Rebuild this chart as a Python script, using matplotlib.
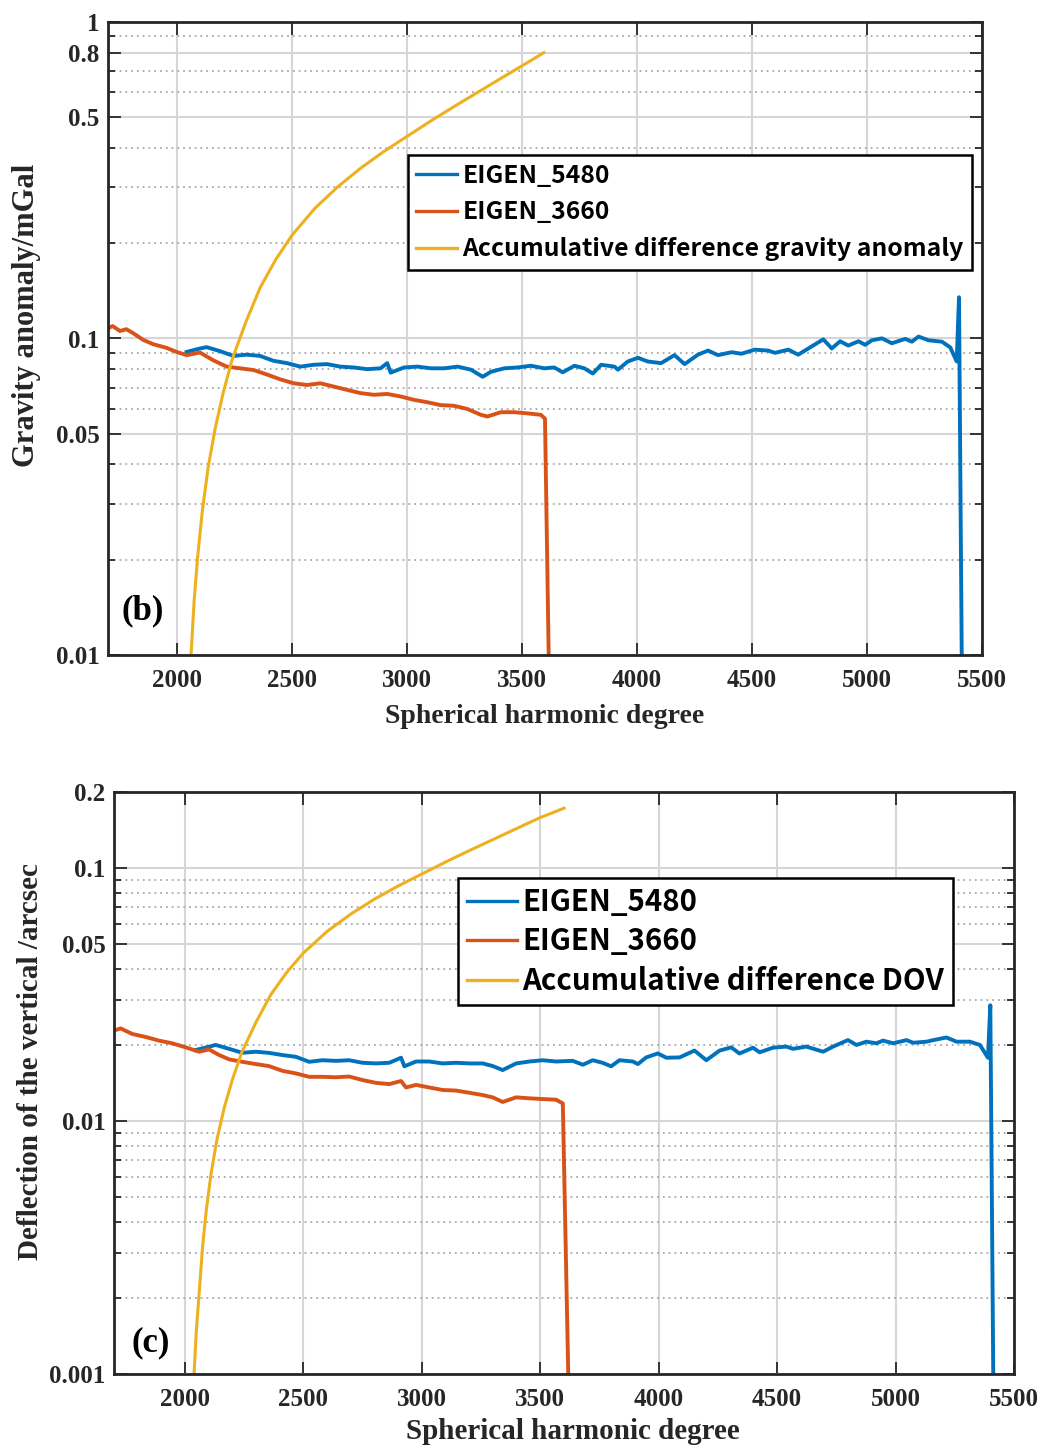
import matplotlib
matplotlib.use("Agg")
import matplotlib.pyplot as plt
from matplotlib.ticker import FixedLocator, FixedFormatter, NullLocator

# ---------------- data: panel (b) gravity anomaly (mGal) ----------------
b_e5480_deg = [2042, 2100, 2129, 2187, 2245, 2303, 2361, 2420, 2478, 2536, 2594, 2652,
               2710, 2769, 2827, 2885, 2914, 2929, 2987, 3045, 3104, 3162, 3220, 3278,
               3329, 3365, 3423, 3481, 3539, 3597, 3640, 3677, 3728, 3771, 3808, 3844,
               3902, 3917, 3960, 4004, 4047, 4105, 4163, 4207, 4265, 4309, 4352, 4411,
               4454, 4512, 4570, 4600, 4658, 4701, 4745, 4810, 4847, 4883, 4919, 4963,
               4992, 5021, 5065, 5108, 5166, 5195, 5224, 5268, 5326, 5362, 5390, 5400, 5415]
b_e5480_val = [0.0907, 0.0930, 0.0939, 0.0912, 0.0881, 0.0889, 0.0881, 0.0850, 0.0836, 0.0815,
               0.0826, 0.0830, 0.0815, 0.0810, 0.0800, 0.0805, 0.0836, 0.0780, 0.0810, 0.0815,
               0.0805, 0.0805, 0.0815, 0.0797, 0.0757, 0.0785, 0.0805, 0.0810, 0.0820, 0.0805,
               0.0810, 0.0782, 0.0820, 0.0805, 0.0775, 0.0826, 0.0815, 0.0797, 0.0846, 0.0869,
               0.0846, 0.0836, 0.0886, 0.0830, 0.0889, 0.0916, 0.0886, 0.0905, 0.0895, 0.0922,
               0.0916, 0.0901, 0.0922, 0.0889, 0.0930, 0.0994, 0.0930, 0.0980, 0.0950, 0.0980,
               0.0955, 0.0987, 0.1001, 0.0966, 0.0997, 0.0977, 0.1014, 0.0987, 0.0977, 0.0937,
               0.0846, 0.1350, 0.0050]

b_e3660_deg = [1700, 1720, 1752, 1780, 1810, 1853, 1897, 1955, 1998, 2042, 2100, 2158,
               2216, 2274, 2333, 2390, 2449, 2507, 2565, 2623, 2681, 2740, 2798, 2856,
               2914, 2972, 3030, 3088, 3146, 3204, 3262, 3321, 3350, 3408, 3466, 3524,
               3582, 3600, 3617]
b_e3660_val = [0.1077, 0.1095, 0.1056, 0.1070, 0.1039, 0.0990, 0.0959, 0.0934, 0.0907, 0.0886,
               0.0903, 0.0853, 0.0815, 0.0805, 0.0795, 0.0770, 0.0743, 0.0722, 0.0713, 0.0722,
               0.0705, 0.0688, 0.0672, 0.0664, 0.0668, 0.0656, 0.0640, 0.0629, 0.0616, 0.0613,
               0.0599, 0.0574, 0.0567, 0.0585, 0.0585, 0.0580, 0.0574, 0.0558, 0.0090]

b_acc_deg = [2061, 2075, 2090, 2110, 2135, 2166, 2200, 2240, 2300, 2362, 2430, 2500,
             2600, 2700, 2800, 2900, 3000, 3100, 3200, 3300, 3400, 3500, 3595]
b_acc_val = [0.0100, 0.0150, 0.0205, 0.0285, 0.0390, 0.0520, 0.0670, 0.0860, 0.1130,
             0.1450, 0.1780, 0.2120, 0.2580, 0.3020, 0.3460, 0.3900, 0.4350, 0.4850,
             0.5380, 0.5950, 0.6580, 0.7270, 0.8000]

# ---------------- data: panel (c) deflection of the vertical (arcsec) ----------------
c_e5480_deg = [2045, 2101, 2129, 2186, 2242, 2299, 2355, 2411, 2468, 2524, 2580, 2637,
               2693, 2750, 2806, 2862, 2912, 2926, 2975, 3031, 3088, 3144, 3200, 3257,
               3299, 3341, 3398, 3454, 3510, 3566, 3637, 3680, 3721, 3763, 3799, 3834,
               3891, 3912, 3947, 3996, 4032, 4088, 4151, 4201, 4257, 4306, 4341, 4398,
               4426, 4482, 4539, 4567, 4623, 4694, 4736, 4799, 4835, 4877, 4919, 4947,
               4990, 5046, 5074, 5131, 5159, 5215, 5257, 5314, 5356, 5390, 5400, 5415]
c_e5480_val = [0.0191, 0.01967, 0.0200, 0.0193, 0.01862, 0.0188, 0.0186, 0.01824, 0.01795,
               0.01715, 0.0174, 0.0173, 0.0174, 0.0170, 0.0169, 0.0170, 0.0178, 0.01646,
               0.0172, 0.0172, 0.0169, 0.0170, 0.0169, 0.0169, 0.0165, 0.01591, 0.0169,
               0.0172, 0.0174, 0.0172, 0.0173, 0.0167, 0.0174, 0.0170, 0.01646, 0.0174,
               0.0172, 0.0168, 0.01785, 0.01851, 0.0178, 0.01785, 0.0190, 0.0174, 0.0190,
               0.01956, 0.0185, 0.0195, 0.0187, 0.0195, 0.0197, 0.0193, 0.0197, 0.0188,
               0.0197, 0.0209, 0.0200, 0.0206, 0.0203, 0.0208, 0.0203, 0.0209, 0.0204,
               0.0206, 0.0209, 0.0214, 0.0206, 0.0206, 0.0200, 0.0178, 0.0287, 0.0005]

c_e3660_deg = [1700, 1728, 1777, 1834, 1890, 1946, 2003, 2059, 2101, 2144, 2186, 2242,
               2299, 2355, 2411, 2468, 2524, 2580, 2637, 2693, 2750, 2806, 2862, 2912,
               2933, 2975, 3031, 3088, 3144, 3200, 3257, 3299, 3341, 3398, 3454, 3510,
               3566, 3595, 3620]
c_e3660_val = [0.0228, 0.02325, 0.0221, 0.0215, 0.0208, 0.0203, 0.01956, 0.0188, 0.0192,
               0.01824, 0.01754, 0.01715, 0.0168, 0.01649, 0.0158, 0.01543, 0.01496, 0.01496,
               0.0149, 0.0150, 0.01452, 0.01416, 0.0140, 0.0144, 0.01358, 0.0139, 0.01358,
               0.01327, 0.0132, 0.01294, 0.01267, 0.01241, 0.0119, 0.01241, 0.0123, 0.01222,
               0.01215, 0.01175, 0.0008]

c_acc_deg = [2038, 2048, 2061, 2075, 2090, 2110, 2135, 2166, 2200, 2240, 2300, 2362,
             2430, 2500, 2600, 2700, 2800, 2900, 3000, 3100, 3200, 3300, 3400, 3500, 3600]
c_acc_val = [0.00100, 0.00150, 0.00218, 0.00327, 0.00447, 0.00621, 0.00850, 0.01134,
             0.01461, 0.01875, 0.02463, 0.03161, 0.03880, 0.04622, 0.05624, 0.06584,
             0.07543, 0.08502, 0.09483, 0.10573, 0.11728, 0.12971, 0.14344, 0.15849,
             0.17260]

x_ticks = [2000, 2500, 3000, 3500, 4000, 4500, 5000, 5500]
b_yticks = [0.01, 0.05, 0.1, 0.5, 0.8, 1]
b_yticklabels = ["0.01", "0.05", "0.1", "0.5", "0.8", "1"]
c_yticks = [0.001, 0.01, 0.05, 0.1, 0.2]
c_yticklabels = ["0.001", "0.01", "0.05", "0.1", "0.2"]

labels_b = ["EIGEN_5480", "EIGEN_3660", "Accumulative difference gravity anomaly"]
labels_c = ["EIGEN_5480", "EIGEN_3660", "Accumulative difference DOV"]

# ---------------- styling ----------------
C_BLUE = "#0072BD"
C_RED = "#D95319"
C_YEL = "#EDB120"
AX_COLOR = "#262626"
SERIF = "Liberation Serif"
LEG_FONT = ["Noto Sans CJK SC", "DejaVu Sans"]

W, H = 1054, 1446
fig = plt.figure(figsize=(W / 100, H / 100), dpi=100)


def px_axes(l, t, r, b):
    return fig.add_axes([l / W, 1 - b / H, (r - l) / W, (b - t) / H])


def minor_positions(lo, hi, majors):
    out = []
    dec = lo
    while dec < hi * 0.999:
        for k in range(1, 10):
            v = round(k * dec, 10)
            if lo < v < hi and all(abs(v - m) / m > 1e-6 for m in majors):
                out.append(v)
        dec *= 10
    return out


def style_axes(ax, ylim, yticks, yticklabels):
    ax.set_yscale("log")
    ax.set_xlim(1700, 5500)
    ax.set_ylim(*ylim)
    ax.xaxis.set_major_locator(FixedLocator(x_ticks))
    ax.xaxis.set_minor_locator(NullLocator())
    ax.yaxis.set_major_locator(FixedLocator(yticks))
    ax.yaxis.set_major_formatter(FixedFormatter(yticklabels))
    ax.yaxis.set_minor_locator(FixedLocator(minor_positions(ylim[0], ylim[1], yticks)))
    ax.yaxis.set_minor_formatter(FixedFormatter([]))
    ax.tick_params(which="both", direction="in", top=True, right=True,
                   color=AX_COLOR, width=1.3)
    ax.tick_params(which="major", length=9)
    ax.tick_params(which="minor", length=5)
    ax.tick_params(axis="x", which="major", pad=10)
    ax.tick_params(axis="y", which="major", pad=6)
    for lab in ax.get_xticklabels() + ax.get_yticklabels():
        lab.set_fontfamily(SERIF)
        lab.set_fontweight("bold")
        lab.set_fontsize(18)
        lab.set_color(AX_COLOR)
    ax.grid(which="major", axis="both", color="#d6d6d6", linewidth=1.5, linestyle="-")
    ax.grid(which="minor", axis="y", color="#a8a8a8", linewidth=1.3, linestyle=(0, (1, 2.2)))
    ax.set_axisbelow(True)
    for s in ax.spines.values():
        s.set_linewidth(2.0)
        s.set_color(AX_COLOR)


def draw_panel(ax, e5480, e3660, acc, labels, leg_anchor, fs, spacing, bpad, hlen):
    ax.plot(*e5480, color=C_BLUE, linewidth=2.8, label=labels[0])
    ax.plot(*e3660, color=C_RED, linewidth=2.8, label=labels[1])
    ax.plot(*acc, color=C_YEL, linewidth=2.2, label=labels[2])
    leg = ax.legend(loc="upper left", bbox_to_anchor=leg_anchor, borderaxespad=0,
                    prop={"family": LEG_FONT, "weight": "bold", "size": fs},
                    handlelength=hlen, handletextpad=0.2,
                    labelspacing=spacing, borderpad=bpad, fancybox=False,
                    framealpha=1, edgecolor="black")
    leg.get_frame().set_linewidth(1.8)
    for line in leg.get_lines():
        line.set_linewidth(2.4)


# panel (b)
ax1 = px_axes(108, 22, 982, 655)
draw_panel(ax1, (b_e5480_deg, b_e5480_val), (b_e3660_deg, b_e3660_val),
           (b_acc_deg, b_acc_val), labels_b, (0.343, 0.79), 17.8, 0.52, 0.35, 1.66)
style_axes(ax1, (0.01, 1), b_yticks, b_yticklabels)
ax1.set_xlabel("Spherical harmonic degree", fontfamily=SERIF, fontweight="bold",
               fontsize=20, color=AX_COLOR, labelpad=9)
ax1.set_ylabel("Gravity anomaly/mGal", fontfamily=SERIF, fontweight="bold",
               fontsize=22, color=AX_COLOR, va="center")
ax1.yaxis.set_label_coords(-0.0927, 0.536)
ax1.text(0.016, 0.07, "(b)", transform=ax1.transAxes, fontfamily=SERIF,
         fontweight="bold", fontsize=25, color="black", va="center", ha="left")

# panel (c)
ax2 = px_axes(114, 792, 1014, 1374)
draw_panel(ax2, (c_e5480_deg, c_e5480_val), (c_e3660_deg, c_e3660_val),
           (c_acc_deg, c_acc_val), labels_c, (0.382, 0.852), 21.2, 0.32, 0.3, 1.7)
style_axes(ax2, (0.001, 0.2), c_yticks, c_yticklabels)
ax2.set_xlabel("Spherical harmonic degree", fontfamily=SERIF, fontweight="bold",
               fontsize=21, color=AX_COLOR)
ax2.xaxis.set_label_coords(0.51, -0.076)
ax2.set_ylabel("Deflection of the vertical /arcsec", fontfamily=SERIF, fontweight="bold",
               fontsize=21, color=AX_COLOR, va="center")
ax2.yaxis.set_label_coords(-0.0933, 0.536)
ax2.text(0.019, 0.053, "(c)", transform=ax2.transAxes, fontfamily=SERIF,
         fontweight="bold", fontsize=25, color="black", va="center", ha="left")

fig.savefig("out.png", dpi=100, facecolor="white")
